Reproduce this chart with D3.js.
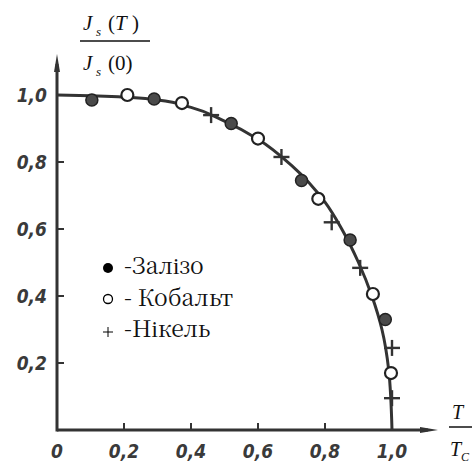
<!DOCTYPE html>
<html>
<head>
<meta charset="utf-8">
<script src="https://cdn.jsdelivr.net/npm/d3@7"></script>
<style>
  body { margin: 0; background: #fff; }
  .tick-lab { font-family: 'DejaVu Sans Condensed', 'DejaVu Sans', sans-serif; font-style: italic; font-weight: bold; font-size: 19px; fill: #3a3a3a; }
</style>
</head>
<body>
<div id="graf"></div>
<script>
// data
const ticks = [0, 0.2, 0.4, 0.6, 0.8, 1.0]
const tickLabels = ['0', '0,2', '0,4', '0,6', '0,8', '1,0']
const yTicks = [0.2, 0.4, 0.6, 0.8, 1.0]

const curveT = [0, 0.1, 0.2, 0.3, 0.4, 0.5, 0.6, 0.7, 0.8, 0.85, 0.9, 0.94, 0.97, 0.99, 1.0]
const curveJ = [1.0, 0.998, 0.994, 0.985, 0.963, 0.922, 0.868, 0.79, 0.68, 0.6, 0.5, 0.4, 0.3, 0.18, 0.0]

const zalizoT = [0.104, 0.29, 0.52, 0.73, 0.875, 0.98]
const zalizoJ = [0.985, 0.988, 0.915, 0.745, 0.567, 0.33]
const kobaltT = [0.21, 0.373, 0.6, 0.78, 0.943, 0.997]
const kobaltJ = [1.0, 0.976, 0.87, 0.69, 0.406, 0.17]
const nikelT = [0.46, 0.67, 0.82, 0.905, 1.0, 1.0]
const nikelJ = [0.94, 0.815, 0.62, 0.484, 0.245, 0.095]

const legTexts = ['-Залізо', '- Кобальт', '-Нікель']

const serif = '"Liberation Serif", serif'
// Liberation Serif has no Cyrillic here, so the legend uses the CJK serif
const serifCyr = '"Noto Serif CJK SC"'

const svg = d3.select('#graf')
  .append('svg')
  .attr('width', 472)
  .attr('height', 463)

const x = d3.scaleLinear().domain([0, 1]).range([57, 392])
const y = d3.scaleLinear().domain([0, 1]).range([430, 95])

const ink = '#333'

// axes
svg.append('line')
  .attr('x1', x(0)).attr('y1', y(0))
  .attr('x2', 428).attr('y2', y(0))
  .attr('stroke', ink).attr('stroke-width', 3)
svg.append('path')
  .attr('d', `M 438 ${y(0)} L 420 ${y(0) - 3} L 420 ${y(0) + 3} Z`)
  .attr('fill', ink)
svg.append('line')
  .attr('x1', x(0)).attr('y1', y(0) + 1.5)
  .attr('x2', x(0)).attr('y2', 64)
  .attr('stroke', ink).attr('stroke-width', 3)
svg.append('path')
  .attr('d', `M ${x(0)} 54 L ${x(0) - 3} 72 L ${x(0) + 3} 72 Z`)
  .attr('fill', ink)

// ticks
svg.selectAll('.xt').data(ticks.slice(1, 5))
  .enter().append('line')
  .attr('x1', (d) => x(d)).attr('x2', (d) => x(d))
  .attr('y1', y(0)).attr('y2', y(0) - 7)
  .attr('stroke', ink).attr('stroke-width', 2)
svg.selectAll('.yt').data(yTicks.slice(0, 4))
  .enter().append('line')
  .attr('x1', x(0)).attr('x2', x(0) + 7)
  .attr('y1', (d) => y(d)).attr('y2', (d) => y(d))
  .attr('stroke', ink).attr('stroke-width', 2)

svg.selectAll('.xl').data(ticks)
  .enter().append('text')
  .attr('class', 'tick-lab')
  .attr('x', (d) => x(d))
  .attr('y', 458)
  .attr('text-anchor', 'middle')
  .text((d, i) => tickLabels[i])

svg.selectAll('.yl').data(yTicks)
  .enter().append('text')
  .attr('class', 'tick-lab')
  .attr('x', 47)
  .attr('y', (d) => y(d) + 7)
  .attr('text-anchor', 'end')
  .text((d) => tickLabels[ticks.indexOf(d)])

// axis titles
const yTitle = svg.append('g').style('font-family', serif).attr('fill', '#111')
yTitle.append('text').attr('x', 83).attr('y', 30).attr('font-size', 21).attr('font-style', 'italic').text('J')
yTitle.append('text').attr('x', 96).attr('y', 36).attr('font-size', 13).attr('font-style', 'italic').text('s')
yTitle.append('text').attr('x', 108).attr('y', 30).attr('font-size', 21).html('(<tspan font-style="italic">T</tspan> )')
yTitle.append('line').attr('x1', 80).attr('x2', 150).attr('y1', 41).attr('y2', 41).attr('stroke', '#111').attr('stroke-width', 1.5)
yTitle.append('text').attr('x', 83).attr('y', 70).attr('font-size', 21).attr('font-style', 'italic').text('J')
yTitle.append('text').attr('x', 96).attr('y', 76).attr('font-size', 13).attr('font-style', 'italic').text('s')
yTitle.append('text').attr('x', 108).attr('y', 70).attr('font-size', 21).text('(0)')

const xTitle = svg.append('g').style('font-family', serif).attr('fill', '#111')
xTitle.append('text').attr('x', 452).attr('y', 419).attr('font-size', 20).attr('font-style', 'italic').text('T')
xTitle.append('line').attr('x1', 449).attr('x2', 472).attr('y1', 427).attr('y2', 427).attr('stroke', '#111').attr('stroke-width', 1.5)
xTitle.append('text').attr('x', 450).attr('y', 456).attr('font-size', 20).attr('font-style', 'italic').text('T')
xTitle.append('text').attr('x', 461).attr('y', 461).attr('font-size', 12).attr('font-style', 'italic').text('C')

// curve
const line = d3.line()
  .x((d, i) => x(curveT[i]))
  .y((d) => y(d))
  .curve(d3.curveMonotoneY)
svg.append('path')
  .datum(curveJ)
  .attr('d', line)
  .attr('fill', 'none')
  .attr('stroke', ink)
  .attr('stroke-width', 3)

// markers
function plus(sel, s) {
  sel.append('line').attr('x1', -s).attr('x2', s).attr('y1', 0).attr('y2', 0)
  sel.append('line').attr('x1', 0).attr('x2', 0).attr('y1', -s).attr('y2', s)
  sel.selectAll('line').attr('stroke', ink).attr('stroke-width', 2.4)
}

svg.selectAll('.fe').data(zalizoJ)
  .enter().append('circle')
  .attr('cx', (d, i) => x(zalizoT[i]))
  .attr('cy', (d) => y(d))
  .attr('r', 6)
  .attr('fill', '#4a4a4a')
  .attr('stroke', '#222')
  .attr('stroke-width', 1.5)

svg.selectAll('.co').data(kobaltJ)
  .enter().append('circle')
  .attr('cx', (d, i) => x(kobaltT[i]))
  .attr('cy', (d) => y(d))
  .attr('r', 6)
  .attr('fill', '#fff')
  .attr('stroke', '#222')
  .attr('stroke-width', 2.2)

svg.selectAll('.ni').data(nikelJ)
  .enter().append('g')
  .attr('transform', (d, i) => `translate(${x(nikelT[i])}, ${y(d)})`)
  .each(function () { plus(d3.select(this), 8) })

// legend
const leg = svg.append('g')
leg.append('circle').attr('cx', 108).attr('cy', 268).attr('r', 5).attr('fill', '#000')
leg.append('circle').attr('cx', 108).attr('cy', 299).attr('r', 4.5).attr('fill', '#fff').attr('stroke', '#000').attr('stroke-width', 1.3)
leg.append('line').attr('x1', 103).attr('x2', 113).attr('y1', 332).attr('y2', 332).attr('stroke', '#000').attr('stroke-width', 1)
leg.append('line').attr('x1', 108).attr('x2', 108).attr('y1', 327).attr('y2', 337).attr('stroke', '#000').attr('stroke-width', 1)

leg.selectAll('text').data(legTexts)
  .enter().append('text')
  .style('font-family', serifCyr)
  .attr('fill', '#111')
  .attr('x', 124)
  .attr('y', (d, i) => 274 + i * 31.5)
  .attr('font-size', 23)
  .text((d) => d)
</script>
</body>
</html>
